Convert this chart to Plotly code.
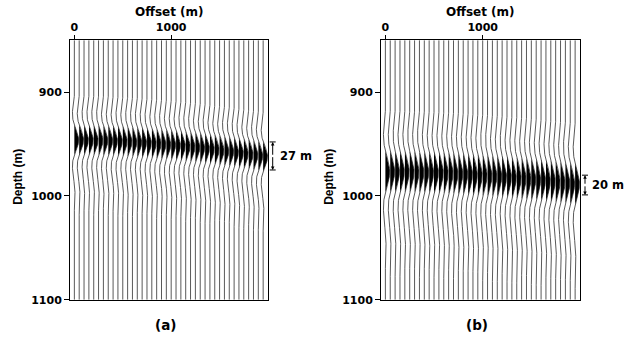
import numpy as np
import plotly.graph_objects as go

# ---------------- data ----------------
offsets = list(range(0, 2000, 50))          # trace offsets (m), 40 traces
# event (peak) depth read per trace (m)
depth_a = [946.0, 946.0, 946.1, 946.2, 946.3, 946.4, 946.6, 946.7, 946.9, 947.1,
           947.4, 947.6, 947.9, 948.2, 948.5, 948.9, 949.2, 949.6, 950.0, 950.4,
           950.8, 951.3, 951.7, 952.2, 952.7, 953.2, 953.7, 954.3, 954.8, 955.4,
           956.0, 956.6, 957.2, 957.8, 958.5, 959.2, 959.9, 960.6, 961.3, 962.0]
depth_b = [976.5, 976.5, 976.6, 976.6, 976.7, 976.8, 976.9, 977.1, 977.2, 977.4,
           977.5, 977.7, 977.9, 978.2, 978.4, 978.7, 978.9, 979.2, 979.5, 979.8,
           980.1, 980.4, 980.8, 981.1, 981.5, 981.9, 982.3, 982.7, 983.1, 983.5,
           984.0, 984.4, 984.9, 985.4, 985.9, 986.4, 986.9, 987.4, 988.0, 988.5]
# wavelet: half-width of main lobe (m) per panel
lobe_a = 14.5
lobe_b = 20.0
ring_amp = 0.2                               # relative size of outer ringing
gain = 45.0                                  # peak excursion in offset units (m)

x_ticks = [0, 1000]
y_ticks = [900, 1000, 1100]
x_range = [-45, 2000]
y_range = [1100, 850]
moveout_labels = ["27 m", "20 m"]
moveout_span_a = [948, 975]
moveout_span_b = [980, 999]
panel_labels = ["(a)", "(b)"]

# ---------------- helpers ----------------
z = np.arange(850.0, 1100.01, 0.5)


def wavelet(u, a):
    s = (u / a) ** 2
    ricker = (1 - s) * np.exp(-s / 2)
    ring = ring_amp * np.exp(-((np.abs(u) - 3.3 * a) / (0.5 * a)) ** 2)
    return ricker + ring


def build(depths, a):
    lx, ly, fx, fy = [], [], [], []
    for off, d in zip(offsets, depths):
        w = wavelet(z - d, a)
        lx += list(off + gain * w) + [None]
        ly += list(z) + [None]
        m = np.abs(z - d) <= a
        zz = z[m]
        ww = np.clip(w[m], 0, None)
        fx += list(off + gain * ww) + [None]
        fy += list(zz) + [None]
    return lx, ly, fx, fy


fig = go.Figure()
for i, (dep, a) in enumerate([(depth_a, lobe_a), (depth_b, lobe_b)]):
    lx, ly, fx, fy = build(dep, a)
    xa = "x" if i == 0 else "x2"
    ya = "y" if i == 0 else "y2"
    fig.add_trace(go.Scatter(x=fx, y=fy, mode="lines", fill="toself",
                             fillcolor="black", line=dict(width=0, color="black"),
                             xaxis=xa, yaxis=ya, hoverinfo="skip", showlegend=False))
    fig.add_trace(go.Scatter(x=lx, y=ly, mode="lines",
                             line=dict(width=0.75, color="#222"),
                             xaxis=xa, yaxis=ya, hoverinfo="skip", showlegend=False))

W, H = 634, 345
dom_x = [[70 / W, 268 / W], [381 / W, 580 / W]]
dom_y = [1 - 306 / H, 1 - 41 / H]

tick_font = dict(family="DejaVu Sans", size=11, color="black", weight="bold")
ax_common = dict(showline=True, linewidth=1, linecolor="black", mirror=True,
                 ticks="outside", tickwidth=1, tickcolor="black",
                 showgrid=False, zeroline=False, tickfont=tick_font)

fig.update_layout(
    width=W, height=H, margin=dict(l=0, r=0, t=0, b=0),
    paper_bgcolor="white", plot_bgcolor="white",
    xaxis=dict(domain=dom_x[0], range=x_range, tickvals=x_ticks, side="top",
               anchor="y", ticklen=4, **ax_common),
    yaxis=dict(domain=dom_y, range=y_range, tickvals=y_ticks, anchor="x",
               ticklen=5, **ax_common),
    xaxis2=dict(domain=dom_x[1], range=x_range, tickvals=x_ticks, side="top",
                anchor="y2", ticklen=4, **ax_common),
    yaxis2=dict(domain=dom_y, range=y_range, tickvals=y_ticks, anchor="x2",
                ticklen=5, **ax_common),
)


def ypaper(d):
    return dom_y[0] + (y_range[0] - d) / (y_range[0] - y_range[1]) * (dom_y[1] - dom_y[0])


title_font = dict(family="DejaVu Sans", size=12, color="black", weight="bold")
vfont = dict(family="Liberation Sans", size=12, color="black", weight="bold")
ann = []
for i in range(2):
    cx = (dom_x[i][0] + dom_x[i][1]) / 2
    ann.append(dict(x=cx, y=1 - 12 / H, xref="paper", yref="paper", text="Offset (m)",
                    showarrow=False, font=title_font, xanchor="center", yanchor="middle"))
    ann.append(dict(x=(18.5 + 311 * i) / W, y=1 - 181 / H, xref="paper", yref="paper",
                    text="Depth (m)", textangle=-90, showarrow=False, font=vfont,
                    xanchor="center", yanchor="middle"))
    ann.append(dict(x=cx - 4 / W, y=1 - 332 / H, xref="paper", yref="paper",
                    text=panel_labels[i], showarrow=False,
                    font=dict(family="DejaVu Sans", size=13.5, color="black", weight="bold"),
                    xanchor="center", yanchor="middle"))

shapes = []
brackets = [(272.7, moveout_span_a, moveout_labels[0]), (585.0, moveout_span_b, moveout_labels[1])]
for px, span, lab in brackets:
    xp = px / W
    y0, y1 = ypaper(span[0]), ypaper(span[1])
    ym = (y0 + y1) / 2
    for yy in (y0, y1):
        ann.append(dict(x=xp, y=yy, xref="paper", yref="paper", ax=0, ay=(yy - ym) * H,
                        text="", showarrow=True, standoff=0,
                        arrowhead=2, arrowsize=0.7, arrowwidth=1, arrowcolor="black"))
        shapes.append(dict(type="line", xref="paper", yref="paper",
                           x0=xp - 3 / W, x1=xp + 3 / W, y0=yy, y1=yy,
                           line=dict(color="black", width=1)))
    ann.append(dict(x=xp + 5 / W, y=ym, xref="paper", yref="paper", text=lab,
                    showarrow=False, font=dict(family="DejaVu Sans", size=11.5, color="black",
                                               weight="bold"),
                    xanchor="left", yanchor="middle"))

fig.update_layout(annotations=ann, shapes=shapes)
fig.write_html("out.html")
